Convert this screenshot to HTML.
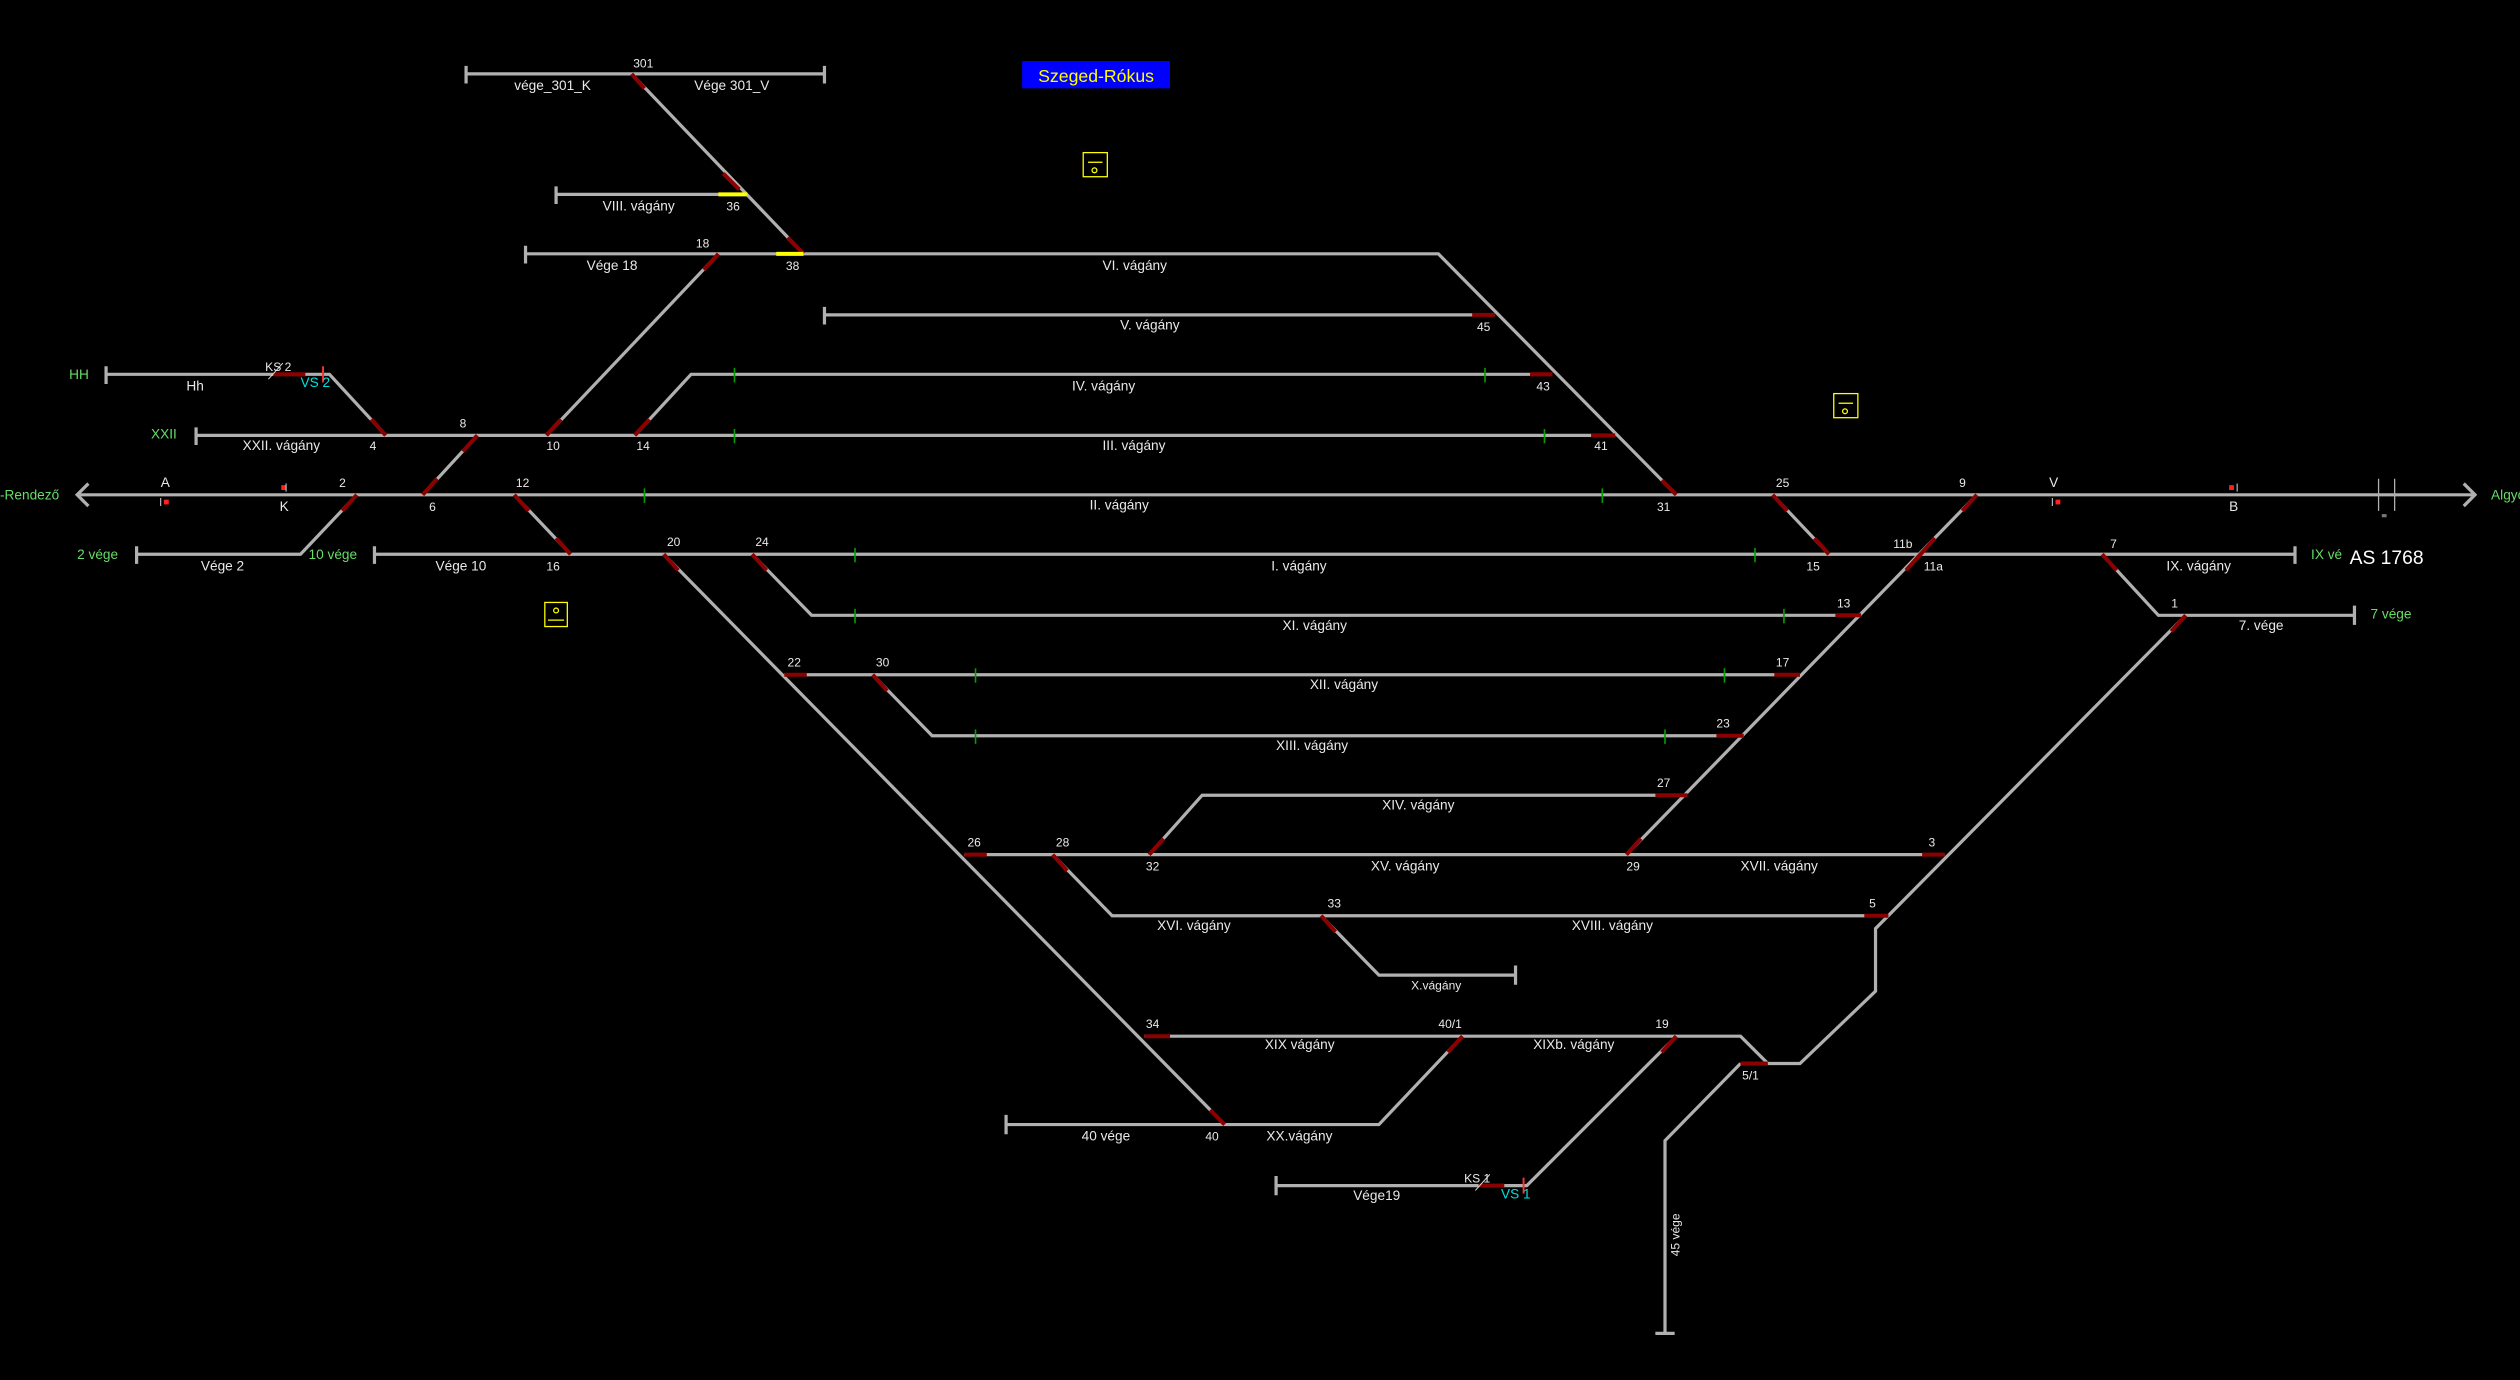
<!DOCTYPE html>
<html><head><meta charset="utf-8"><style>
html,body{margin:0;padding:0;background:#000;overflow:hidden}
svg{display:block}
text{font-family:"Liberation Sans","DejaVu Sans",sans-serif;font-size:8.5px;fill:#e8e8e8}
.n{font-size:7.5px}
.g{fill:#66dd66}
.c{fill:#00e0e0}
</style></head><body>
<svg width="2520" height="1380" viewBox="0 0 1568 859" preserveAspectRatio="none" xmlns="http://www.w3.org/2000/svg">
<rect width="1568" height="859" fill="#000"/>
<g stroke="#b0b0b0" stroke-width="2" fill="none" stroke-linejoin="miter">
<path d="M48 308H1540"/>
<path d="M55 301L48 308L55 315M1533 301L1540 308L1533 315"/>
<path d="M290 46H513M290 41V52M513 41V52"/>
<path d="M393 46L500 158"/>
<path d="M346 121H465M346 116V127"/>
<path d="M327 158H895L1043 308M327 153V164"/>
<path d="M513 196H930M513 191V202"/>
<path d="M66 233H205L240 271M66 228V239"/>
<path d="M395 271L430 233H966"/>
<path d="M122 271H1005M122 266V277"/>
<path d="M340 271L447 158"/>
<path d="M297 271L263 308"/>
<path d="M222 308L187 345H85M85 340V351"/>
<path d="M233 345H1428M233 340V351M1428 340V351"/>
<path d="M320 308L355 345"/>
<path d="M413 345L762 700"/>
<path d="M468 345L505 383H1158"/>
<path d="M488 420H1120"/>
<path d="M543 420L580 458H1085"/>
<path d="M600 532H1210"/>
<path d="M715 532L748 495H1050"/>
<path d="M655 532L692 570H1175"/>
<path d="M822 570L858 607H943M943 601V613"/>
<path d="M1230 308L1012 532"/>
<path d="M1103 308L1138 345"/>
<path d="M1308 345L1343 383H1465M1465 377V389"/>
<path d="M1360 383L1167 578V617L1120 662H1100L1083 645H712"/>
<path d="M1083 662H1100M1083 662L1036 710V830M1030 830H1042"/>
<path d="M626 700H858L910 645M626 694V706"/>
<path d="M1043 645L950 738H794M794 732V744"/>
<path d="M1480 298V318M1490 298V318" stroke-width="0.8"/>
</g>
<g stroke="#8b0000" stroke-width="2.5">
<path d="M393 46L401 55M450 108L460 118M490 148L500 158M447 158L438 168M340 271L349 261M395 271L404 261M240 271L231 261M297 271L288 281M263 308L272 298M222 308L213 318M320 308L329 318M355 345L346 335M413 345L422 355M468 345L477 355M753 691L762 700"/>
<path d="M1043 308L1034 299M1005 271H990M966 233H952M930 196H916M1103 308L1112 318M1138 345L1129 335M1230 308L1221 318M1195 345L1204 335M1195 345L1186 355M1158 383H1142M1120 420H1104M1085 458H1068M1050 495H1030M1012 532L1021 522M1210 532H1196M1175 570H1160M1360 383L1351 393M1308 345L1317 355M715 532L724 522M655 532L664 542M600 532H614M822 570L831 580M488 420H502M543 420L552 430M712 645H728M910 645L901 655M1043 645L1034 655M1083 662H1100M170 233H190M920 738H936"/>
</g>
<path d="M447 121H465M483 158H500" stroke="#ffff00" stroke-width="2.5"/>
<g stroke="#00a000" stroke-width="1">
<path d="M457 229V238M924 229V238M457 267V276M961 267V276M401 304V313M997 304V313M532 341V350M1092 341V350M532 379V388M1110 379V388M607 416V425M1073 416V425M607 454V463M1036 454V463"/>
</g>
<g fill="#ff2020">
<rect x="102" y="311" width="3" height="3"/><rect x="175" y="302" width="3" height="3"/>
<rect x="1279" y="311" width="3" height="3"/><rect x="1387" y="302" width="3" height="3"/>
</g>
<g stroke="#e0e0e0" stroke-width="0.6">
<path d="M100 310V315M178 301V306M1277 310V315M1392 301V306M167 236L176 226M918 741L927 731"/>
</g>
<path d="M201 228V238M948 733V743" stroke="#ff3030" stroke-width="1.2"/>
<rect x="1482" y="320" width="3" height="2" fill="#777"/>
<g stroke="#ffff00" stroke-width="0.8" fill="none">
<rect x="674" y="95" width="15" height="15"/><path d="M677 101H686"/><circle cx="681" cy="106" r="1.5"/>
<rect x="1141" y="245" width="15" height="15"/><path d="M1144 251H1153"/><circle cx="1148" cy="256" r="1.5"/>
<rect x="339" y="375" width="14" height="15"/><path d="M341 386H351"/><circle cx="346" cy="380" r="1.5"/>
</g>
<rect x="636" y="38" width="92" height="17" fill="#0000ff"/>
<text x="682" y="51" text-anchor="middle" style="font-size:11px;fill:#ffff00">Szeged-Rókus</text>
<text x="1462" y="351" style="font-size:12px;fill:#fff">AS 1768</text>
<g>
<text x="394" y="42" class="n">301</text>
<text x="320" y="56">vége_301_K</text><text x="432" y="56">Vége 301_V</text>
<text x="375" y="131">VIII. vágány</text><text x="452" y="131" class="n">36</text>
<text x="433" y="154" class="n">18</text><text x="365" y="168">Vége 18</text><text x="489" y="168" class="n">38</text>
<text x="686" y="168">VI. vágány</text>
<text x="697" y="205">V. vágány</text><text x="919" y="206" class="n">45</text>
<text x="116" y="243">Hh</text><text x="165" y="231" class="n">KS  2</text><text x="187" y="241" class="c">VS 2</text>
<text x="667" y="243">IV. vágány</text><text x="956" y="243" class="n">43</text>
<text x="286" y="266" class="n">8</text>
<text x="151" y="280">XXII. vágány</text><text x="230" y="280" class="n">4</text><text x="340" y="280" class="n">10</text><text x="396" y="280" class="n">14</text>
<text x="686" y="280">III. vágány</text><text x="992" y="280" class="n">41</text>
<text x="100" y="303">A</text><text x="174" y="318">K</text><text x="211" y="303" class="n">2</text><text x="267" y="318" class="n">6</text><text x="321" y="303" class="n">12</text>
<text x="678" y="317">II. vágány</text><text x="1031" y="318" class="n">31</text>
<text x="1105" y="303" class="n">25</text><text x="1219" y="303" class="n">9</text><text x="1275" y="303">V</text><text x="1387" y="318">B</text>
<text x="125" y="355">Vége 2</text><text x="271" y="355">Vége 10</text><text x="340" y="355" class="n">16</text>
<text x="415" y="340" class="n">20</text><text x="470" y="340" class="n">24</text>
<text x="791" y="355">I. vágány</text><text x="1124" y="355" class="n">15</text>
<text x="1178" y="341" class="n">11b</text><text x="1197" y="355" class="n">11a</text><text x="1313" y="341" class="n">7</text><text x="1348" y="355">IX. vágány</text>
<text x="1351" y="378" class="n">1</text><text x="1393" y="392">7. vége</text>
<text x="798" y="392">XI. vágány</text><text x="1143" y="378" class="n">13</text>
<text x="490" y="415" class="n">22</text><text x="545" y="415" class="n">30</text>
<text x="815" y="429">XII. vágány</text><text x="1105" y="415" class="n">17</text>
<text x="794" y="467">XIII. vágány</text><text x="1068" y="453" class="n">23</text>
<text x="860" y="504">XIV. vágány</text><text x="1031" y="490" class="n">27</text>
<text x="602" y="527" class="n">26</text><text x="657" y="527" class="n">28</text><text x="713" y="542" class="n">32</text>
<text x="853" y="542">XV. vágány</text><text x="1012" y="542" class="n">29</text><text x="1083" y="542">XVII. vágány</text><text x="1200" y="527" class="n">3</text>
<text x="720" y="579">XVI. vágány</text><text x="826" y="565" class="n">33</text><text x="978" y="579">XVIII. vágány</text><text x="1163" y="565" class="n">5</text>
<text x="878" y="616" style="font-size:7.5px">X.vágány</text>
<text x="713" y="640" class="n">34</text><text x="895" y="640" class="n">40/1</text><text x="1030" y="640" class="n">19</text>
<text x="787" y="653">XIX vágány</text><text x="954" y="653">XIXb. vágány</text><text x="1084" y="672" class="n">5/1</text>
<text x="673" y="710">40 vége</text><text x="750" y="710" class="n">40</text><text x="788" y="710">XX.vágány</text>
<text x="842" y="747">Vége19</text><text x="911" y="736" class="n">KS  1</text><text x="934" y="746" class="c">VS 1</text>
<text transform="translate(1045 782) rotate(-90)" class="n">45 vége</text>
<text x="0" y="311" class="g">-Rendező</text><text x="1550" y="311" class="g">Algyő</text>
<text x="43" y="236" class="g">HH</text><text x="94" y="273" class="g">XXII</text>
<text x="48" y="348" class="g">2 vége</text><text x="192" y="348" class="g">10 vége</text>
<text x="1438" y="348" class="g">IX vé</text><text x="1475" y="385" class="g">7 vége</text>
</g>
</svg>
</body></html>
